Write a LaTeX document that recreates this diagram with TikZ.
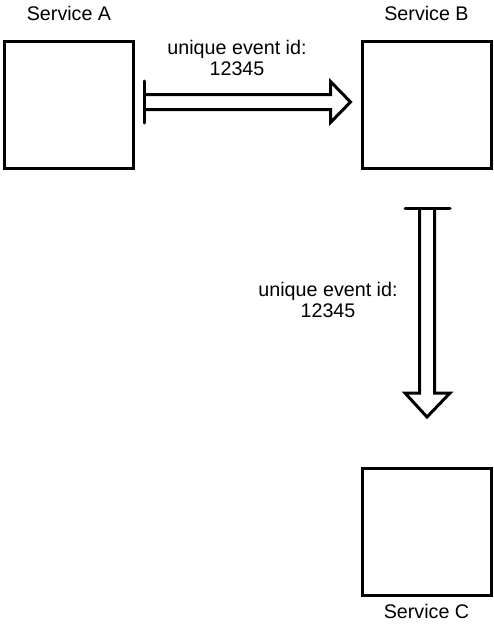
\documentclass[tikz,border=0pt]{standalone}
\usepackage{fontspec}
\setmainfont{Liberation Sans}
\usetikzlibrary{positioning,calc}
\tikzset{
  svc/.style={draw,line width=3pt,minimum width=129pt,minimum height=127pt,inner sep=0pt},
  lbl/.style={font=\fontsize{19.7}{20.5}\selectfont,inner sep=0pt},
  evt/.style={font=\fontsize{19.7}{20.5}\selectfont,inner sep=0pt,align=center},
  pipe/.style={line width=3pt,line join=miter},
  pipebar/.style={line width=3pt,line cap=round}
}
\begin{document}
\begin{tikzpicture}[x=1pt,y=-1pt]
  \useasboundingbox (0,0) rectangle (494,626);
  % services
  \node[svc] (a) at (69,105) {};
  \node[svc] (b) at (426.5,105) {};
  \node[svc] (c) at (426.5,532) {};
  \node[lbl,anchor=base] (la) at ($(a.north)+(0,-19)$) {Service A};
  \node[lbl,anchor=base] (lb) at ($(b.north)+(0,-19)$) {Service B};
  \node[lbl,anchor=base] (lc) at ($(c.south)+(0,21)$) {Service C};
  % A to B
  \coordinate (h0) at ($(a.east)+(9,-3)$);
  \coordinate (h1) at ($(b.west)+(-10,-3)$);
  \draw[pipebar] ($(h0)+(0,-21)$) -- ($(h0)+(0,21)$);
  \draw[pipe] ($(h0)+(0,-7.5)$) -- ($(h1)+(-20,-7.5)$) -- ($(h1)+(-20,-20.5)$) -- (h1)
    -- ($(h1)+(-20,20.5)$) -- ($(h1)+(-20,7.5)$) -- ($(h0)+(0,7.5)$);
  \node[evt] (e1) at (237,58) {unique event id:\\12345};
  % B to C
  \coordinate (v0) at ($(b.south)+(0.5,38)$);
  \coordinate (v1) at ($(c.north)+(0.5,-50)$);
  \draw[pipebar] ($(v0)+(-22,0)$) -- ($(v0)+(23,0)$);
  \draw[pipe] ($(v0)+(-7.5,0)$) -- ($(v1)+(-7.5,-24)$) -- ($(v1)+(-22,-24)$) -- (v1)
    -- ($(v1)+(23,-24)$) -- ($(v1)+(7.5,-24)$) -- ($(v0)+(7.5,0)$);
  \node[evt] (e2) at (328,300) {unique event id:\\12345};
\end{tikzpicture}
\end{document}
